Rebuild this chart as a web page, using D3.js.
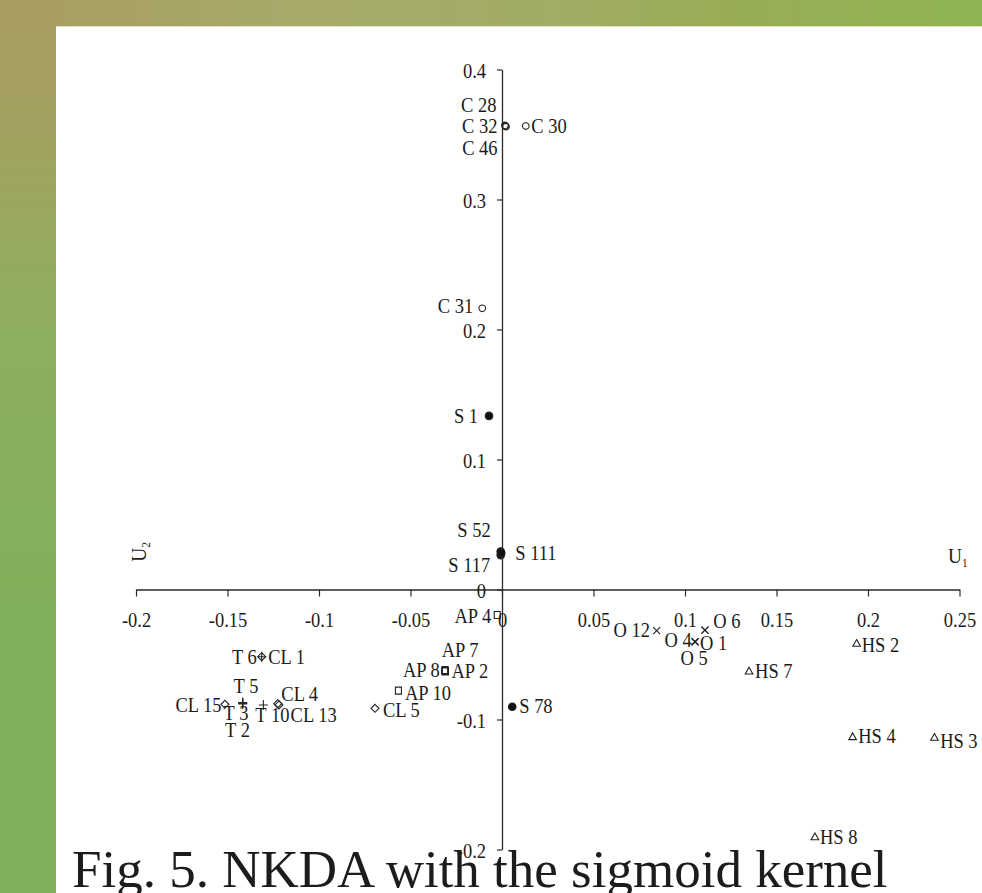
<!DOCTYPE html>
<html>
<head>
<meta charset="utf-8">
<script src="https://cdn.jsdelivr.net/npm/d3@7"></script>
<style>
  html, body { margin: 0; padding: 0; background: #ffffff; }
  svg { display: block; }
  text { font-family: "Liberation Serif", "Times New Roman", serif; fill: #1c1c1c; }
</style>
</head>
<body>
<svg id="chart" width="982" height="893"></svg>
<script>
// Sample scores on the first two discriminant directions (U1, U2)
const sampleNames  = ["C 28","C 32","C 46","C 30","C 31",
                      "S 1","S 52","S 117","S 111","S 78",
                      "AP 4","AP 7","AP 8","AP 2","AP 10",
                      "CL 1","CL 15","CL 4","CL 13","CL 5",
                      "T 6","T 5","T 3","T 2","T 10",
                      "O 12","O 4","O 5","O 6","O 1",
                      "HS 2","HS 7","HS 4","HS 3","HS 8"];
const sampleGroups = ["C","C","C","C","C",
                      "S","S","S","S","S",
                      "AP","AP","AP","AP","AP",
                      "CL","CL","CL","CL","CL",
                      "T","T","T","T","T",
                      "O","O","O","O","O",
                      "HS","HS","HS","HS","HS"];
const u1Values = [0.0016, 0.0019, 0.0022, 0.0130, -0.0108,
                  -0.0071, -0.0007, -0.0007, -0.0004, 0.0056,
                  -0.0026, -0.0311, -0.0313, -0.0309, -0.0566,
                  -0.1313, -0.1514, -0.1225, -0.1219, -0.0694,
                  -0.1313, -0.1417, -0.1417, -0.1417, -0.1304,
                  0.0845, 0.1055, 0.1055, 0.1109, 0.1109,
                  0.1938, 0.1350, 0.1916, 0.2363, 0.1710];
const u2Values = [0.3570, 0.3565, 0.3560, 0.3565, 0.2163,
                  0.1335, 0.0292, 0.0265, 0.0280, -0.0902,
                  -0.0196, -0.0620, -0.0625, -0.0630, -0.0778,
                  -0.0517, -0.0883, -0.0878, -0.0888, -0.0914,
                  -0.0517, -0.0870, -0.0875, -0.0880, -0.0888,
                  -0.0317, -0.0402, -0.0402, -0.0312, -0.0312,
                  -0.0414, -0.0627, -0.1132, -0.1137, -0.1902];

const xTicks = [-0.2, -0.15, -0.1, -0.05, 0, 0.05, 0.1, 0.15, 0.2, 0.25];
const xTickLabels = ["-0.2","-0.15","-0.1","-0.05","0","0.05","0.1","0.15","0.2","0.25"];
const yTicks = [-0.2, -0.1, 0, 0.1, 0.2, 0.3, 0.4];
const yTickLabels = ["-0.2","-0.1","0","0.1","0.2","0.3","0.4"];

const titleText = "Fig. 5. NKDA with the sigmoid kernel";

// Label placement beside each marker: [anchor, dx, dy]
const labelPlacement = {
  "C 28": ["end", -8.5, -13], "C 32": ["end", -8, 7], "C 46": ["end", -8.5, 28],
  "C 30": ["start", 5.5, 7], "C 31": ["end", -9, 5],
  "S 1": ["end", -11, 7], "S 52": ["end", -10, -15], "S 117": ["end", -10.5, 17],
  "S 111": ["start", 14, 7], "S 78": ["start", 7, 6],
  "AP 4": ["end", -6, 7.7], "AP 7": ["middle", 15, -13.5], "AP 8": ["end", -5, 6.5],
  "AP 2": ["start", 6, 6.5], "AP 10": ["start", 6.5, 9.3],
  "CL 1": ["start", 6.5, 7.3], "CL 15": ["end", -3.5, 7.4], "CL 4": ["start", 3.5, -2.6],
  "CL 13": ["start", 11.7, 17.4], "CL 5": ["start", 8, 8.4],
  "T 6": ["end", -5, 7.3], "T 5": ["middle", 3.3, -10], "T 3": ["middle", -6.7, 16.7],
  "T 2": ["middle", -5.2, 33.4], "T 10": ["middle", 9, 17],
  "O 12": ["end", -6.7, 6], "O 4": ["end", -3.3, 5], "O 5": ["middle", -1, 23.3],
  "O 6": ["start", 8.3, -1.7], "O 1": ["start", -5, 20],
  "HS 2": ["start", 5, 8.4], "HS 7": ["start", 6, 7.3], "HS 4": ["start", 5.6, 6.6],
  "HS 3": ["start", 5.7, 11], "HS 8": ["start", 5, 7.6]
};

const svg = d3.select("#chart");
const W = 982, H = 893;

// ---- backdrop: green slide frame with a white panel ----
const defs = svg.append("defs");
const gSide = defs.append("linearGradient").attr("id", "sideGrad")
  .attr("x1", 0).attr("y1", 0).attr("x2", 0).attr("y2", 1);
[["0%", "#a99d61"], ["15%", "#a3a261"], ["35%", "#8eae5e"], ["70%", "#82b05a"], ["100%", "#7fb05c"]]
  .forEach(([o, c]) => gSide.append("stop").attr("offset", o).attr("stop-color", c));
const gTop = defs.append("linearGradient").attr("id", "topGrad")
  .attr("x1", 0).attr("y1", 0).attr("x2", 1).attr("y2", 0);
[["0%", "#a99c62"], ["30%", "#a7a96b"], ["55%", "#a2ac66"], ["75%", "#98ad55"], ["100%", "#8fb553"]]
  .forEach(([o, c]) => gTop.append("stop").attr("offset", o).attr("stop-color", c));

svg.append("rect").attr("width", W).attr("height", H).attr("fill", "url(#sideGrad)");
svg.append("rect").attr("width", W).attr("height", 26).attr("fill", "url(#topGrad)");
svg.append("rect").attr("x", 56).attr("y", 26).attr("width", W - 56).attr("height", H - 26).attr("fill", "#ffffff");
svg.append("line").attr("x1", 56).attr("x2", W).attr("y1", 26.5).attr("y2", 26.5)
  .attr("stroke", "#dfe3c4").attr("stroke-width", 1.2);

// ---- scales ----
const x = d3.scaleLinear().domain([-0.2, 0.25]).range([136, 959.5]);
const y = d3.scaleLinear().domain([-0.2, 0.4]).range([849.5, 69.5]);

// narrow, tall serif lettering
const FS = 21, SX = 0.88;

// ---- axes crossing at the origin ----
const xAxis = d3.axisBottom(x).tickValues(xTicks)
  .tickFormat((d, i) => xTickLabels[i]).tickSize(7).tickSizeOuter(0).tickPadding(16);
const yAxis = d3.axisLeft(y).tickValues(yTicks)
  .tickFormat((d, i) => yTickLabels[i]).tickSize(5).tickSizeOuter(0).tickPadding(11);

const gx = svg.append("g").attr("transform", `translate(0,${y(0)})`).call(xAxis);
const gy = svg.append("g").attr("transform", `translate(${x(0)},0)`).call(yAxis);
[gx, gy].forEach(g => {
  g.select(".domain").attr("stroke", "#2a2a2a").attr("stroke-width", 1.3);
  g.selectAll(".tick line").attr("stroke", "#2a2a2a").attr("stroke-width", 1.2);
  g.selectAll(".tick text")
    .attr("font-family", "Liberation Serif, Times New Roman, serif")
    .attr("font-size", FS).attr("fill", "#1c1c1c")
    .attr("transform", `scale(${SX},1)`);
});
gy.selectAll(".tick text").attr("x", -16 / SX).attr("dy", "0.36em");

// axis names
svg.append("text").attr("transform", `translate(948,563) scale(${SX},1)`).attr("font-size", 22)
  .text("U").append("tspan").attr("font-size", 13).attr("dy", 4).text("1");
svg.append("text").attr("transform", `translate(146,552) rotate(-90) scale(${SX},1)`)
  .attr("text-anchor", "middle").attr("font-size", 22)
  .text("U").append("tspan").attr("font-size", 13).attr("dy", 4).text("2");

// ---- marker shapes per group ----
const markerPath = {
  C: () => { const p = d3.path(); p.arc(0, 0, 3.3, 0, 2 * Math.PI); return p.toString(); },
  S: () => { const p = d3.path(); p.arc(0, 0, 3.8, 0, 2 * Math.PI); return p.toString(); },
  AP: () => "M-3,-3.5H3V3.5H-3Z",
  CL: () => "M0,-4L4,0L0,4L-4,0Z",
  T: () => "M-4.5,0H4.5M0,-5V5",
  O: () => "M-3.5,-3.5L3.5,3.5M3.5,-3.5L-3.5,3.5",
  HS: () => "M0,-3.8L3.8,3L-3.8,3Z"
};
const filledGroups = new Set(["S"]);

const points = sampleNames.map((name, i) => ({
  name, group: sampleGroups[i], u1: u1Values[i], u2: u2Values[i]
}));

const gPts = svg.append("g");
gPts.selectAll("path").data(points).join("path")
  .attr("transform", d => `translate(${x(d.u1)},${y(d.u2)})`)
  .attr("d", d => markerPath[d.group]())
  .attr("fill", d => filledGroups.has(d.group) ? "#111" : "none")
  .attr("stroke", "#222")
  .attr("stroke-width", 1.1);

const gLab = svg.append("g");
gLab.selectAll("text").data(points).join("text")
  .attr("transform", d => `translate(${x(d.u1) + labelPlacement[d.name][1]},${y(d.u2) + labelPlacement[d.name][2]}) scale(${SX},1)`)
  .attr("text-anchor", d => labelPlacement[d.name][0])
  .attr("font-size", FS)
  .text(d => d.name);

// ---- caption ----
svg.append("text").attr("x", 72).attr("y", 887)
  .attr("font-size", 53).attr("fill", "#111")
  .text(titleText);
</script>
</body>
</html>
